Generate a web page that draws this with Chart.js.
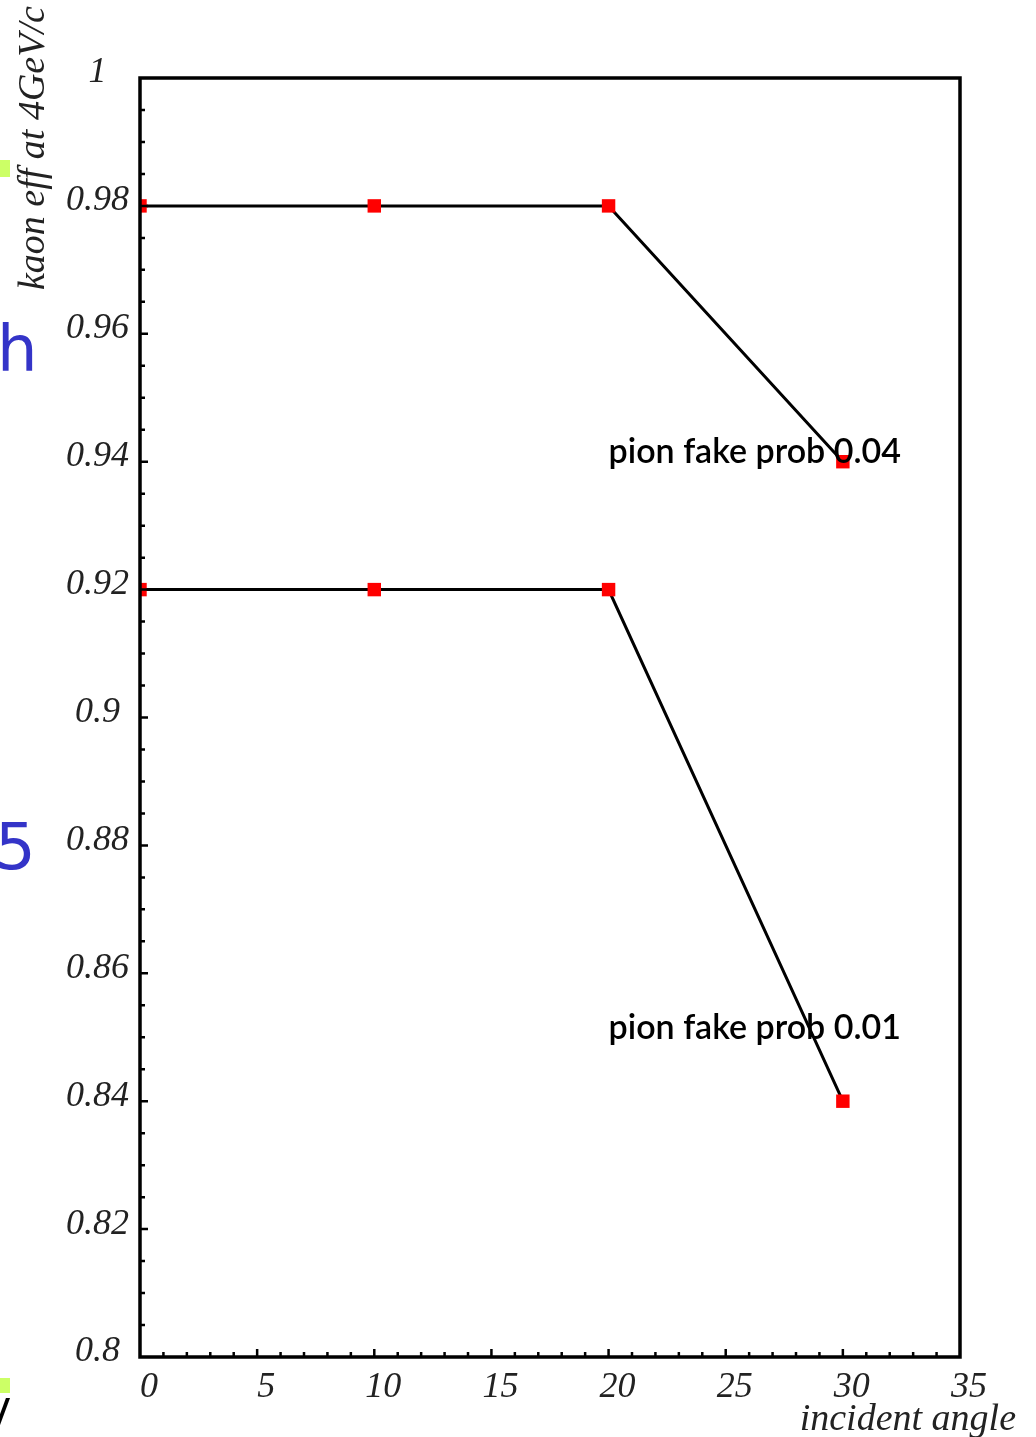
<!DOCTYPE html>
<html>
<head>
<meta charset="utf-8">
<script src="https://cdn.jsdelivr.net/npm/chart.js@4.4.0/dist/chart.umd.min.js"></script>
<style>
  html, body { margin: 0; padding: 0; background: #fff; }
  #wrap { position: relative; width: 1036px; height: 1437px; overflow: hidden; }
  #chart { position: absolute; left: 0; top: 0; }
  .bit { position: absolute; font-family: "DejaVu Sans", sans-serif; line-height: 1; white-space: nowrap; }
  .sq { position: absolute; background: #ccff66; }
</style>
</head>
<body>
<div id="wrap">
  <canvas id="chart" width="1036" height="1437"></canvas>
  <!-- bits of the slide behind the figure, left edge -->
  <div class="sq" style="left:0;top:160px;width:10px;height:17px;"></div>
  <div class="sq" style="left:0;top:1378px;width:10px;height:15px;"></div>
  <span class="bit" style="left:-3px;top:317px;font-size:64px;color:#3434c8;">h</span>
  <span class="bit" style="left:-5px;top:815px;font-size:64px;color:#3434c8;">5</span>
  <span class="bit" style="left:-17px;top:1394px;font-size:40px;color:#000;">V</span>
</div>
<script>
// incident angle (deg)
const angles = [0, 10, 20, 30];
// kaon efficiency at 4 GeV/c for two pion fake probabilities
const effFake004 = [0.98, 0.98, 0.98, 0.94];
const effFake001 = [0.92, 0.92, 0.92, 0.84];

// axis ranges and tick spacing
const xRange = [0, 35];
const yRange = [0.8, 1.0];
const xMajor = 5, xMinor = 1;
const yMajor = 0.02, yMinor = 0.005;

// text labels: [text, angle, efficiency]
const notes = [
    ['pion fake prob 0.04', 20, 0.9415],
    ['pion fake prob 0.01', 20, 0.8514]
];
const yTitle = 'kaon eff at 4GeV/c';
const xTitle = 'incident angle';

const serif = { family: '"Liberation Serif", "DejaVu Serif", serif', size: 36, style: 'italic' };

function toPoints(xs, ys) {
    return xs.map((x, i) => ({ x: x, y: ys[i] }));
}

// frame, inward ticks, annotations and axis titles
const framePlugin = {
    id: 'frame',
    afterDraw(chart) {
        const ctx = chart.ctx;
        const a = chart.chartArea;
        const xs = chart.scales.x, ys = chart.scales.y;
        ctx.save();

        ctx.strokeStyle = '#000';
        ctx.lineWidth = 2.5;
        ctx.lineCap = 'butt';
        ctx.beginPath();
        for (let i = 0; i <= Math.round((xRange[1] - xRange[0]) / xMinor); i++) {
            const v = xRange[0] + i * xMinor;
            if (v === xRange[0] || v === xRange[1]) continue;
            const px = xs.getPixelForValue(v);
            const len = (v % xMajor === 0) ? 8 : 5;
            ctx.moveTo(px, a.bottom);
            ctx.lineTo(px, a.bottom - len);
        }
        const nY = Math.round((yRange[1] - yRange[0]) / yMinor);
        for (let i = 1; i < nY; i++) {
            const v = yRange[0] + i * yMinor;
            const py = ys.getPixelForValue(v);
            const len = (i % Math.round(yMajor / yMinor) === 0) ? 8 : 5;
            ctx.moveTo(a.left, py);
            ctx.lineTo(a.left + len, py);
        }
        ctx.stroke();

        ctx.lineWidth = 3.5;
        ctx.strokeRect(a.left, a.top, a.right - a.left, a.bottom - a.top);

        ctx.fillStyle = '#000';
        ctx.font = '600 34px Lato, "DejaVu Sans", sans-serif';
        ctx.textAlign = 'left';
        ctx.textBaseline = 'middle';
        notes.forEach(([t, x, y]) => {
            ctx.fillText(t, xs.getPixelForValue(x), ys.getPixelForValue(y));
        });

        ctx.fillStyle = '#222';
        ctx.font = 'italic 38px "Liberation Serif", "DejaVu Serif", serif';
        ctx.textBaseline = 'alphabetic';
        ctx.textAlign = 'right';
        ctx.fillText(xTitle, 1016, 1430);

        ctx.translate(44, 290);
        ctx.rotate(-Math.PI / 2);
        ctx.textAlign = 'left';
        ctx.fillText(yTitle, 0, 0);
        ctx.restore();
    }
};

const ctx = document.getElementById('chart').getContext('2d');
const chart = new Chart(ctx, {
    type: 'scatter',
    data: {
        datasets: [{
            label: 'pion fake prob 0.04',
            data: toPoints(angles, effFake004),
            showLine: true,
            borderColor: '#000',
            borderWidth: 3,
            pointStyle: 'rect',
            pointRadius: 9.5,
            pointBorderWidth: 0,
            pointBackgroundColor: '#ff0000',
            clip: 0
        }, {
            label: 'pion fake prob 0.01',
            data: toPoints(angles, effFake001),
            showLine: true,
            borderColor: '#000',
            borderWidth: 3,
            pointStyle: 'rect',
            pointRadius: 9.5,
            pointBorderWidth: 0,
            pointBackgroundColor: '#ff0000',
            clip: 0
        }]
    },
    options: {
        responsive: false,
        animation: false,
        layout: { padding: { top: 78, right: 76, left: 0, bottom: 0 } },
        plugins: {
            legend: { display: false },
            tooltip: { enabled: false }
        },
        scales: {
            x: {
                type: 'linear',
                min: xRange[0],
                max: xRange[1],
                afterFit: function(scale) { scale.height = 80; },
                grid: { display: false, drawTicks: false },
                border: { display: false },
                ticks: {
                    stepSize: xMajor,
                    color: '#222',
                    font: serif,
                    padding: 9,
                    labelOffset: 9,
                    maxRotation: 0
                }
            },
            y: {
                type: 'linear',
                min: yRange[0],
                max: yRange[1],
                afterFit: function(scale) { scale.width = 140; },
                grid: { display: false, drawTicks: false },
                border: { display: false },
                ticks: {
                    stepSize: yMajor,
                    color: '#222',
                    font: serif,
                    padding: 11,
                    crossAlign: 'center',
                    labelOffset: -5,
                    callback: function(value) {
                        return String(Number(value.toFixed(2)));
                    }
                }
            }
        }
    },
    plugins: [framePlugin]
});
</script>
</body>
</html>
